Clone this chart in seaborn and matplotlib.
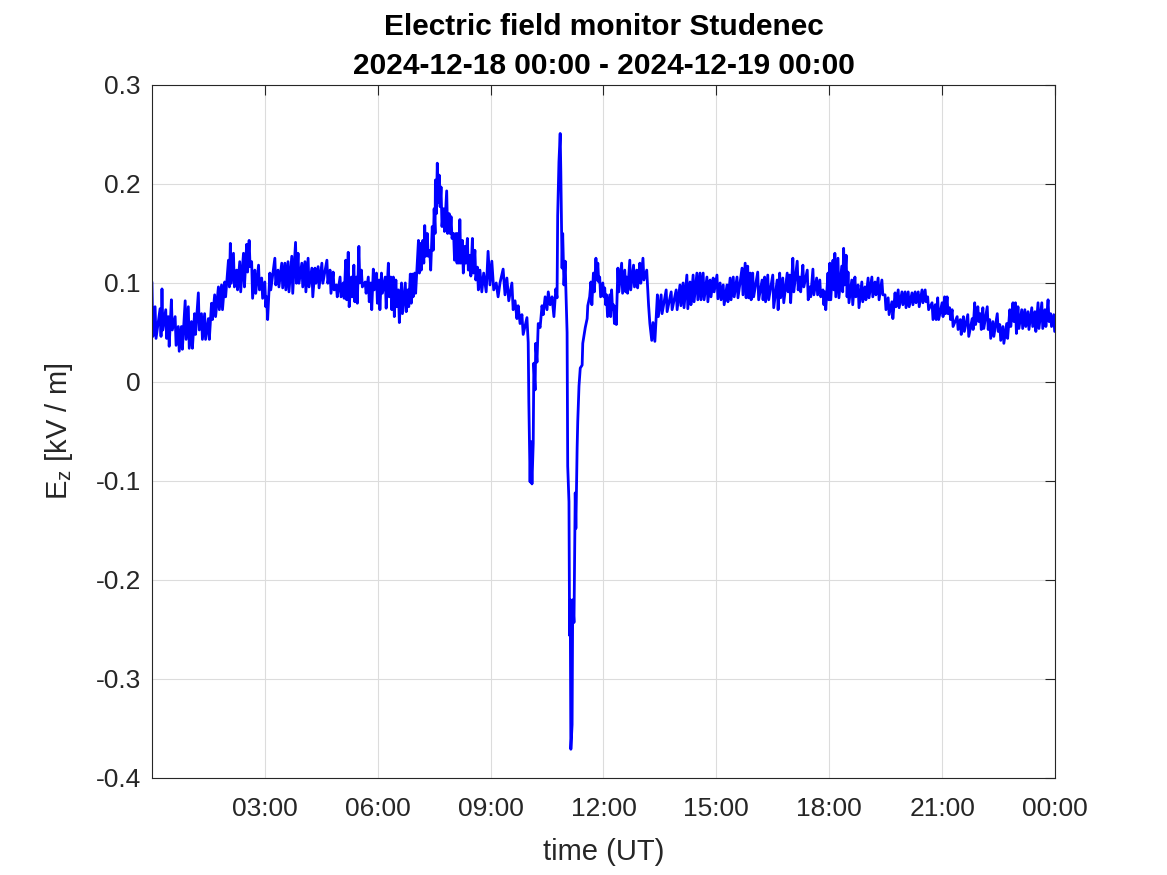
import numpy as np
import pandas as pd
import matplotlib
matplotlib.use('Agg')
import matplotlib.pyplot as plt
import seaborn as sns

# vertical field E_z [kV/m], time in minutes after 00:00 UT
# calm part before the disturbance: upper / lower edge of the noisy trace
early_t = [0, 5, 13, 16, 22, 26, 31, 37, 42, 47,
           53, 58, 63, 68, 74, 79, 84, 90, 95, 100,
           106, 111, 116, 122, 125, 130, 135, 140, 146, 151,
           155, 159, 164, 170, 175, 180, 183, 188, 196, 201,
           207, 212, 217, 223, 229, 233, 239, 244, 249, 255,
           260, 265, 271, 279, 284, 289, 294, 300, 305, 309,
           313, 318, 322, 326, 330, 334, 340, 345, 349, 353,
           358, 362, 366, 372, 377, 381, 385, 389, 393, 398,
           404, 408, 412, 415, 419, 425, 428, 432, 435, 439,
           443, 447, 450, 452, 455, 458, 461, 465, 470, 474,
           477, 481, 485, 488, 491, 495, 499, 503, 507, 511,
           515, 519]
early_hi = [0.101, 0.076, 0.074, 0.094, 0.073, 0.066, 0.083, 0.066, 0.056, 0.056,
            0.082, 0.076, 0.061, 0.069, 0.090, 0.069, 0.069, 0.064, 0.0795, 0.088,
            0.096, 0.098, 0.101, 0.123, 0.140, 0.130, 0.113, 0.1215, 0.130, 0.139,
            0.143, 0.1215, 0.113, 0.118, 0.105, 0.101, 0.086, 0.110, 0.125, 0.113,
            0.120, 0.120, 0.1215, 0.127, 0.141, 0.130, 0.120, 0.1215, 0.125, 0.115,
            0.115, 0.1165, 0.120, 0.123, 0.113, 0.111, 0.098, 0.106, 0.100, 0.123,
            0.131, 0.106, 0.118, 0.106, 0.137, 0.113, 0.101, 0.106, 0.100, 0.114,
            0.110, 0.103, 0.110, 0.106, 0.120, 0.106, 0.106, 0.103, 0.093, 0.100,
            0.100, 0.093, 0.109, 0.109, 0.110, 0.143, 0.140, 0.143, 0.158, 0.150,
            0.133, 0.157, 0.175, 0.204, 0.221, 0.209, 0.197, 0.175, 0.193, 0.170,
            0.167, 0.150, 0.150, 0.150, 0.164, 0.143, 0.137, 0.145, 0.128, 0.145,
            0.133, 0.116]
early_lo = [0.046, 0.044, 0.046, 0.0525, 0.044, 0.036, 0.0525, 0.037, 0.031, 0.033,
            0.043, 0.034, 0.034, 0.048, 0.0525, 0.043, 0.043, 0.043, 0.063, 0.066,
            0.073, 0.073, 0.086, 0.096, 0.0997, 0.096, 0.093, 0.091, 0.096, 0.111,
            0.1165, 0.0845, 0.0895, 0.093, 0.0845, 0.076, 0.063, 0.093, 0.098, 0.096,
            0.095, 0.093, 0.091, 0.0895, 0.0997, 0.0997, 0.096, 0.091, 0.096, 0.086,
            0.0997, 0.095, 0.0997, 0.0997, 0.0895, 0.093, 0.086, 0.086, 0.0845, 0.083,
            0.076, 0.086, 0.081, 0.0795, 0.100, 0.096, 0.0896, 0.081, 0.073, 0.093,
            0.0795, 0.073, 0.0896, 0.0745, 0.086, 0.073, 0.066, 0.076, 0.060, 0.069,
            0.071, 0.076, 0.0795, 0.086, 0.0896, 0.110, 0.113, 0.120, 0.127, 0.127,
            0.113, 0.133, 0.150, 0.170, 0.181, 0.177, 0.157, 0.152, 0.150, 0.150,
            0.145, 0.123, 0.120, 0.120, 0.120, 0.110, 0.120, 0.113, 0.107, 0.110,
            0.103, 0.093]

# disturbed period 08:40 - 14:00, traced point by point
storm_t = [523, 526, 529, 533, 536, 539, 542, 545, 549, 552,
           555, 560, 563, 566, 569, 574, 576, 579, 582, 584,
           587, 590, 592, 598, 600, 601, 603, 604, 606, 608,
           609, 611, 612, 614, 616, 619, 622, 624, 627, 630,
           632, 635, 638, 641, 644, 646, 647, 649, 651, 652,
           654, 655, 657, 659, 660, 662, 663, 665, 666, 667,
           668, 670, 671, 673, 675, 676, 678, 679, 681, 683,
           686, 687, 691, 694, 695, 698, 700, 701.5, 704, 705.5,
           708, 709.5, 711, 712.5, 714, 715.5, 719, 720.5, 722, 723.5,
           725, 726.5, 730, 731.5, 733, 734.5, 736, 737.5, 739, 740.5,
           743, 744.5, 749, 750.5, 754, 755.5, 757, 758.5, 762, 763.5,
           768, 769.5, 773, 774.5, 778, 779.5, 783, 784.5, 789, 790.5,
           792, 794, 797, 799, 802, 806, 807.5, 812, 813.5, 820,
           821.5, 828, 829.5, 836, 837.5]
storm_ez = [0.113, 0.091, 0.110, 0.091, 0.132, 0.098, 0.122, 0.093, 0.100, 0.086,
            0.100, 0.114, 0.088, 0.105, 0.082, 0.100, 0.073, 0.082, 0.064, 0.077,
            0.059, 0.068, 0.048, 0.065, 0.040, -0.020, -0.101, -0.060, -0.103, -0.062,
            0.019, -0.008, 0.039, 0.020, 0.059, 0.055, 0.077, 0.068, 0.086, 0.073,
            0.091, 0.078, 0.086, 0.066, 0.094, 0.085, 0.168, 0.222, 0.251, 0.213,
            0.115, 0.150, 0.098, 0.122, 0.095, 0.050, -0.085, -0.121, -0.256, -0.220,
            -0.371, -0.346, -0.220, -0.243, -0.112, -0.148, -0.067, -0.040, -0.004, 0.014,
            0.017, 0.039, 0.055, 0.064, 0.077, 0.086, 0.101, 0.078, 0.110, 0.091,
            0.125, 0.103, 0.120, 0.101, 0.106, 0.086, 0.100, 0.086, 0.095, 0.078,
            0.088, 0.066, 0.088, 0.066, 0.093, 0.073, 0.078, 0.059, 0.076, 0.058,
            0.115, 0.091, 0.120, 0.0896, 0.113, 0.091, 0.106, 0.0896, 0.123, 0.093,
            0.118, 0.096, 0.113, 0.095, 0.120, 0.0997, 0.125, 0.103, 0.113, 0.095,
            0.077, 0.059, 0.042, 0.060, 0.041, 0.088, 0.066, 0.088, 0.069, 0.093,
            0.071, 0.091, 0.073, 0.093, 0.073]

# afternoon / evening, 14:00 - 24:00: upper / lower edge of the noisy trace
late_t = [842, 847, 853, 858, 863, 869, 874, 879, 885, 890,
          895, 901, 906, 911, 917, 922, 927, 933, 941, 946,
          950, 954, 958, 966, 973, 977, 982, 990, 997, 1001,
          1006, 1013, 1017, 1022, 1029, 1033, 1038, 1045, 1049, 1054,
          1060, 1065, 1070, 1073, 1078, 1081, 1086, 1089, 1094, 1100,
          1103, 1107, 1110, 1116, 1121, 1126, 1132, 1137, 1142, 1148,
          1153, 1158, 1164, 1169, 1174, 1180, 1185, 1190, 1196, 1201,
          1206, 1212, 1217, 1222, 1228, 1233, 1237, 1244, 1249, 1253,
          1260, 1264, 1268, 1272, 1276, 1284, 1289, 1294, 1301, 1308,
          1312, 1317, 1321, 1325, 1332, 1336, 1341, 1348, 1352, 1357,
          1363, 1368, 1373, 1377, 1381, 1387, 1392, 1397, 1403, 1408,
          1413, 1419, 1424, 1429, 1433, 1438]
late_hi = [0.098, 0.100, 0.108, 0.101, 0.108, 0.110, 0.110, 0.110, 0.106, 0.103,
           0.105, 0.108, 0.100, 0.098, 0.098, 0.105, 0.106, 0.106, 0.115, 0.120,
           0.117, 0.110, 0.110, 0.111, 0.103, 0.106, 0.108, 0.108, 0.103, 0.110,
           0.105, 0.110, 0.108, 0.125, 0.122, 0.106, 0.118, 0.113, 0.096, 0.114,
           0.105, 0.103, 0.093, 0.091, 0.110, 0.120, 0.123, 0.130, 0.125, 0.117,
           0.135, 0.128, 0.111, 0.103, 0.106, 0.098, 0.101, 0.096, 0.105, 0.106,
           0.101, 0.105, 0.103, 0.088, 0.085, 0.081, 0.090, 0.093, 0.091, 0.091,
           0.091, 0.090, 0.091, 0.091, 0.093, 0.093, 0.086, 0.080, 0.078, 0.085,
           0.080, 0.086, 0.086, 0.075, 0.073, 0.066, 0.063, 0.066, 0.068, 0.064,
           0.080, 0.076, 0.069, 0.075, 0.076, 0.063, 0.061, 0.069, 0.058, 0.056,
           0.059, 0.073, 0.080, 0.080, 0.076, 0.073, 0.073, 0.071, 0.075, 0.071,
           0.080, 0.080, 0.073, 0.083, 0.069, 0.068]
late_lo = [0.077, 0.075, 0.074, 0.078, 0.081, 0.083, 0.083, 0.083, 0.081, 0.086,
           0.091, 0.084, 0.083, 0.078, 0.081, 0.083, 0.086, 0.085, 0.088, 0.085,
           0.085, 0.083, 0.086, 0.083, 0.083, 0.081, 0.083, 0.075, 0.073, 0.085,
           0.080, 0.091, 0.080, 0.091, 0.093, 0.091, 0.096, 0.083, 0.086, 0.088,
           0.088, 0.086, 0.078, 0.073, 0.083, 0.083, 0.093, 0.086, 0.085, 0.091,
           0.098, 0.086, 0.080, 0.078, 0.086, 0.075, 0.081, 0.083, 0.085, 0.086,
           0.088, 0.083, 0.088, 0.073, 0.068, 0.064, 0.076, 0.075, 0.078, 0.075,
           0.076, 0.078, 0.080, 0.076, 0.080, 0.081, 0.073, 0.063, 0.063, 0.063,
           0.066, 0.069, 0.069, 0.063, 0.056, 0.053, 0.048, 0.051, 0.046, 0.053,
           0.058, 0.061, 0.053, 0.054, 0.053, 0.044, 0.046, 0.051, 0.042, 0.039,
           0.044, 0.056, 0.061, 0.049, 0.054, 0.054, 0.056, 0.053, 0.056, 0.051,
           0.054, 0.054, 0.056, 0.061, 0.056, 0.051]

hour_ticks = [3, 6, 9, 12, 15, 18, 21, 24]
hour_labels = ['03:00', '06:00', '09:00', '12:00', '15:00', '18:00', '21:00', '00:00']
ez_ticks = [-0.4, -0.3, -0.2, -0.1, 0, 0.1, 0.2, 0.3]
ez_labels = ['-0.4', '-0.3', '-0.2', '-0.1', '0', '0.1', '0.2', '0.3']

sns.set_style('white')
plt.rcParams['font.family'] = ['Liberation Sans', 'DejaVu Sans']
plt.rcParams['mathtext.fontset'] = 'custom'
plt.rcParams['mathtext.rm'] = 'Liberation Sans'
plt.rcParams['mathtext.it'] = 'Liberation Sans'


def zigzag(ts, his, los):
    # upper edge, then lower edge shortly after: looks like the raw noisy trace
    tt, vv = [], []
    for t, hi, lo in zip(ts, his, los):
        tt += [t, t + 1.5]
        vv += [hi, lo]
    return tt, vv


e_t, e_v = zigzag(early_t, early_hi, early_lo)
l_t, l_v = zigzag(late_t, late_hi, late_lo)

df = pd.DataFrame({'minute': e_t + storm_t + l_t,
                   'ez': e_v + storm_ez + l_v})
df['hour'] = df['minute'] / 60.0

fig = plt.figure(figsize=(11.67, 8.75), dpi=100)
ax = fig.add_axes([0.1302, 0.1109, 0.7738, 0.7920])
sns.lineplot(data=df, x='hour', y='ez', estimator=None, sort=False,
             color='#0000ff', lw=2.0, ax=ax)

ax.set_xlim(0, 24)
ax.set_ylim(-0.4, 0.3)
ax.set_xticks(hour_ticks)
ax.set_xticklabels(hour_labels)
ax.set_yticks(ez_ticks)
ax.set_yticklabels(ez_labels)
ax.tick_params(direction='in', length=7, width=0.8, top=True, right=True,
               labelsize=19, color='#262626', labelcolor='#262626')
ax.tick_params(axis='x', pad=14)
ax.tick_params(axis='y', pad=8)
ax.set_axisbelow(True)
ax.grid(True, color='#dcdcdc', lw=0.8)
for s in ax.spines.values():
    s.set_visible(True)
    s.set_color('#262626')
    s.set_linewidth(0.8)

ax.set_xlabel('time (UT)', fontsize=21, color='#262626', labelpad=12)
ax.set_ylabel(r'$\mathregular{E_z}$ [kV / m]', fontsize=21, color='#262626', labelpad=15)
ax.set_title('Electric field monitor Studenec\n2024-12-18 00:00 - 2024-12-19 00:00',
             fontsize=21.5, fontweight='bold', color='black', linespacing=1.48, pad=8)

fig.savefig('out.png', dpi=100, facecolor='white')
